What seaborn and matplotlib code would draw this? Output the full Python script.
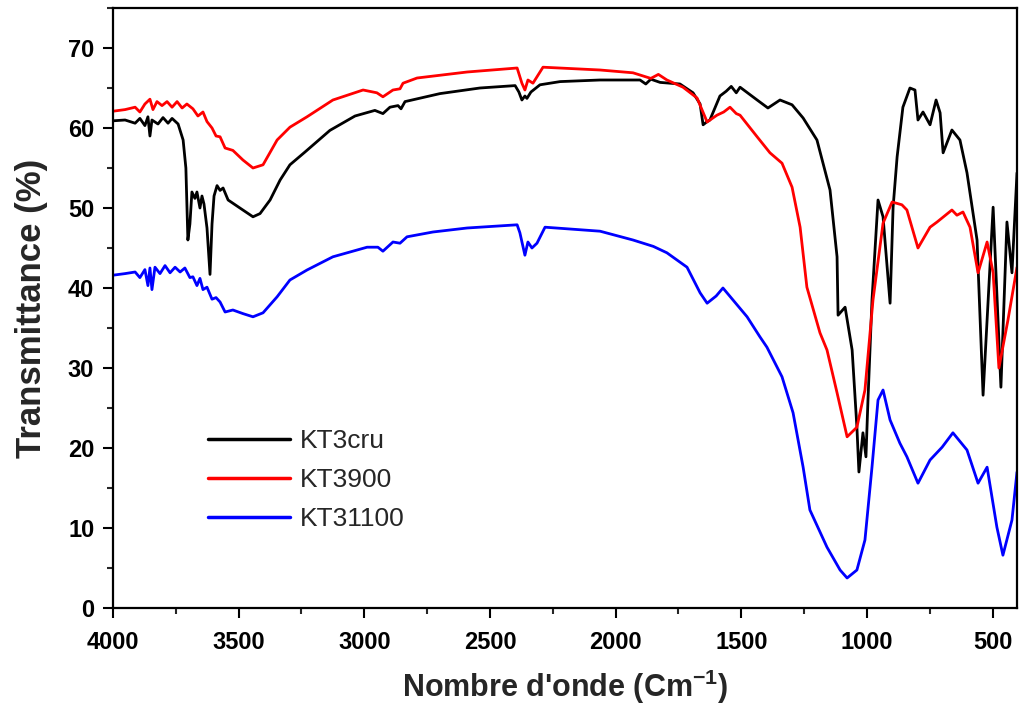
import numpy as np
import pandas as pd
import matplotlib
matplotlib.use("Agg")
import matplotlib.pyplot as plt
import seaborn as sns
from matplotlib.ticker import MultipleLocator

# ---- data (wavenumber cm-1, transmittance %) ----
wn_cru = [4000, 3952, 3912, 3893, 3873, 3861, 3853, 3845, 3821, 3801, 3781, 3765, 3741,
          3721, 3710, 3702, 3694, 3686, 3674, 3666, 3654, 3646, 3638, 3626, 3614, 3606,
          3598, 3586, 3574, 3562, 3542, 3495, 3443, 3415, 3375, 3335, 3296, 3236, 3137,
          3037, 2958, 2926, 2898, 2866, 2854, 2838, 2699, 2540, 2400, 2385, 2373, 2361,
          2353, 2337, 2301, 2221, 2062, 1903, 1880, 1860, 1823, 1744, 1692, 1664, 1652,
          1636, 1625, 1585, 1560, 1540, 1520, 1505, 1437, 1394, 1346, 1298, 1254, 1199,
          1147, 1119, 1115, 1087, 1059, 1040, 1032, 1016, 1004, 996, 980, 956, 936, 908,
          896, 880, 857, 829, 809, 797, 777, 749, 725, 709, 697, 662, 630, 602, 562, 538,
          498, 467, 443, 423, 403]
t_cru = [60.9, 61.0, 60.6, 61.2, 60.3, 61.4, 59.0, 61.0, 60.5, 61.3, 60.6, 61.2, 60.5,
         58.5, 55.0, 46.0, 48.0, 52.0, 51.2, 52.0, 50.0, 51.5, 50.5, 47.5, 41.7, 48.0,
         51.5, 52.8, 52.2, 52.5, 51.0, 50.0, 48.9, 49.3, 51.0, 53.5, 55.4, 57.0, 59.7,
         61.5, 62.2, 61.8, 62.6, 62.8, 62.4, 63.3, 64.3, 65.0, 65.3, 64.5, 63.5, 64.0,
         63.7, 64.5, 65.4, 65.8, 66.0, 66.0, 65.5, 66.1, 65.7, 65.5, 64.4, 63.0, 60.4,
         60.8, 61.0, 64.0, 64.6, 65.2, 64.4, 65.1, 63.5, 62.5, 63.5, 62.9, 61.25, 58.5,
         52.25, 43.9, 36.6, 37.6, 32.25, 22.6, 17.0, 21.9, 18.9, 26.0, 38.5, 51.0, 48.9, 38.1,
         50.1, 56.4, 62.6, 65.0, 64.75, 61.0, 62.0, 60.4, 63.5, 61.9, 56.9, 59.75, 58.5,
         54.4, 46.0, 26.6, 50.1, 27.6, 48.25, 41.9, 54.4]

wn_900 = [4000, 3952, 3912, 3893, 3873, 3853, 3841, 3825, 3805, 3785, 3765, 3745, 3725,
          3706, 3682, 3662, 3642, 3626, 3606, 3590, 3574, 3554, 3523, 3483, 3443, 3403,
          3347, 3296, 3228, 3125, 3005, 2950, 2926, 2886, 2858, 2846, 2790, 2591, 2392,
          2373, 2361, 2349, 2329, 2289, 2062, 1931, 1860, 1830, 1796, 1732, 1676, 1636,
          1597, 1570, 1545, 1520, 1505, 1437, 1386, 1338, 1298, 1266, 1239, 1187, 1159,
          1119, 1079, 1040, 1008, 976, 936, 900, 861, 841, 797, 749, 721, 662, 642, 618,
          590, 558, 522, 498, 475, 439, 403]
t_900 = [62.1, 62.3, 62.6, 62.0, 63.0, 63.6, 62.3, 63.3, 62.8, 63.3, 62.6, 63.3, 62.5,
         63.0, 62.4, 61.5, 62.0, 60.8, 60.0, 59.0, 58.9, 57.5, 57.2, 56.0, 55.0, 55.4,
         58.5, 60.1, 61.4, 63.5, 64.75, 64.4, 63.9, 64.75, 64.9, 65.6, 66.25, 67.0, 67.5,
         65.6, 64.75, 66.0, 65.6, 67.6, 67.25, 66.9, 66.2, 66.7, 66.0, 65.1, 63.75, 60.75,
         61.6, 62.0, 62.6, 61.8, 61.6, 58.9, 56.9, 55.6, 52.6, 47.6, 40.1, 34.4, 32.25,
         26.9, 21.4, 22.6, 27.25, 38.5, 48.1, 50.75, 50.4, 49.75, 45.0, 47.6, 48.25,
         49.75, 49.1, 49.5, 47.6, 41.9, 45.75, 41.9, 30.0, 36.0, 42.6]

wn_1100 = [4000, 3952, 3912, 3893, 3873, 3861, 3853, 3845, 3833, 3813, 3793, 3773, 3753,
           3733, 3714, 3694, 3682, 3666, 3654, 3642, 3626, 3606, 3590, 3574, 3554, 3523,
           3483, 3443, 3403, 3347, 3296, 3228, 3125, 2989, 2946, 2926, 2886, 2858, 2830,
           2727, 2591, 2392, 2381, 2361, 2349, 2333, 2313, 2281, 2062, 1931, 1850, 1796,
           1716, 1664, 1636, 1600, 1573, 1533, 1477, 1426, 1398, 1338, 1294, 1254, 1227,
           1159, 1107, 1079, 1040, 1008, 980, 956, 936, 908, 869, 841, 797, 749, 701,
           658, 602, 558, 522, 483, 459, 423, 403]
t_1100 = [41.6, 41.8, 42.0, 41.3, 42.3, 40.3, 42.5, 39.8, 42.6, 41.8, 42.8, 41.9, 42.6,
          42.0, 42.5, 41.3, 41.4, 40.3, 41.2, 39.8, 40.1, 38.6, 38.8, 38.25, 37.0, 37.25,
          36.8, 36.4, 36.9, 38.9, 41.0, 42.25, 43.9, 45.1, 45.1, 44.6, 45.75, 45.6, 46.4,
          47.0, 47.5, 47.9, 46.9, 44.1, 45.75, 45.0, 45.6, 47.6, 47.1, 46.0, 45.2, 44.4,
          42.6, 39.4, 38.1, 39.0, 40.0, 38.5, 36.4, 33.9, 32.6, 28.9, 24.4, 17.6, 12.25,
          7.6, 4.75, 3.75, 4.75, 8.5, 17.6, 26.0, 27.25, 23.5, 20.6, 18.9, 15.6, 18.5,
          20.1, 21.9, 19.75, 15.6, 17.6, 10.1, 6.6, 11.0, 17.0]

labels = ["KT3cru", "KT3900", "KT31100"]
colors = ["#000000", "#ff0000", "#0000ff"]
x_ticks = [4000, 3500, 3000, 2500, 2000, 1500, 1000, 500]
y_ticks = [0, 10, 20, 30, 40, 50, 60, 70]

df = pd.concat([
    pd.DataFrame({"wn": wn_cru, "T": t_cru, "sample": labels[0]}),
    pd.DataFrame({"wn": wn_900, "T": t_900, "sample": labels[1]}),
    pd.DataFrame({"wn": wn_1100, "T": t_1100, "sample": labels[2]}),
], ignore_index=True)

sns.set_style("ticks")
plt.rcParams["font.family"] = ["Liberation Sans", "DejaVu Sans"]
plt.rcParams["mathtext.fontset"] = "custom"
plt.rcParams["mathtext.rm"] = "Liberation Sans"
plt.rcParams["mathtext.bf"] = "Liberation Sans:bold"

fig = plt.figure(figsize=(10.19, 7.08), dpi=100)
ax = fig.add_axes([113 / 1019, 1 - 608 / 708, (1017 - 113) / 1019, (608 - 8) / 708])

sns.lineplot(data=df, x="wn", y="T", hue="sample", hue_order=labels,
             palette=dict(zip(labels, colors)), estimator=None, sort=True,
             linewidth=2.0, ax=ax)

ax.set_xlim(4000, 403)
ax.set_ylim(0, 75)
ax.set_xticks(x_ticks)
ax.set_yticks(y_ticks)
ax.xaxis.set_minor_locator(MultipleLocator(250))
ax.yaxis.set_minor_locator(MultipleLocator(5))
ax.tick_params(axis="both", which="major", direction="out", length=7.5, width=1.5,
               labelsize=17, colors="black")
ax.tick_params(axis="x", which="major", pad=9)
ax.tick_params(axis="y", which="major", pad=6)
ax.tick_params(axis="both", which="minor", direction="out", length=4, width=1.5)
for lab in ax.get_xticklabels() + ax.get_yticklabels():
    lab.set_fontweight("bold")
for sp in ax.spines.values():
    sp.set_visible(True)
    sp.set_linewidth(1.6)
    sp.set_color("black")

ax.set_xlabel("Nombre d'onde (Cm$^{\\mathbf{-1}}$)", fontsize=22, fontweight="bold", labelpad=10)
ax.set_ylabel("Transmittance (%)", fontsize=25, fontweight="bold", labelpad=14)

leg = ax.legend(loc="upper left", bbox_to_anchor=(0.105, 0.298), frameon=False,
                borderaxespad=0, borderpad=0,
                fontsize=19, handlelength=3.1, labelspacing=0.56, handletextpad=0.4)
for line in leg.get_lines():
    line.set_linewidth(2.5)

fig.savefig("out.png", dpi=100)
